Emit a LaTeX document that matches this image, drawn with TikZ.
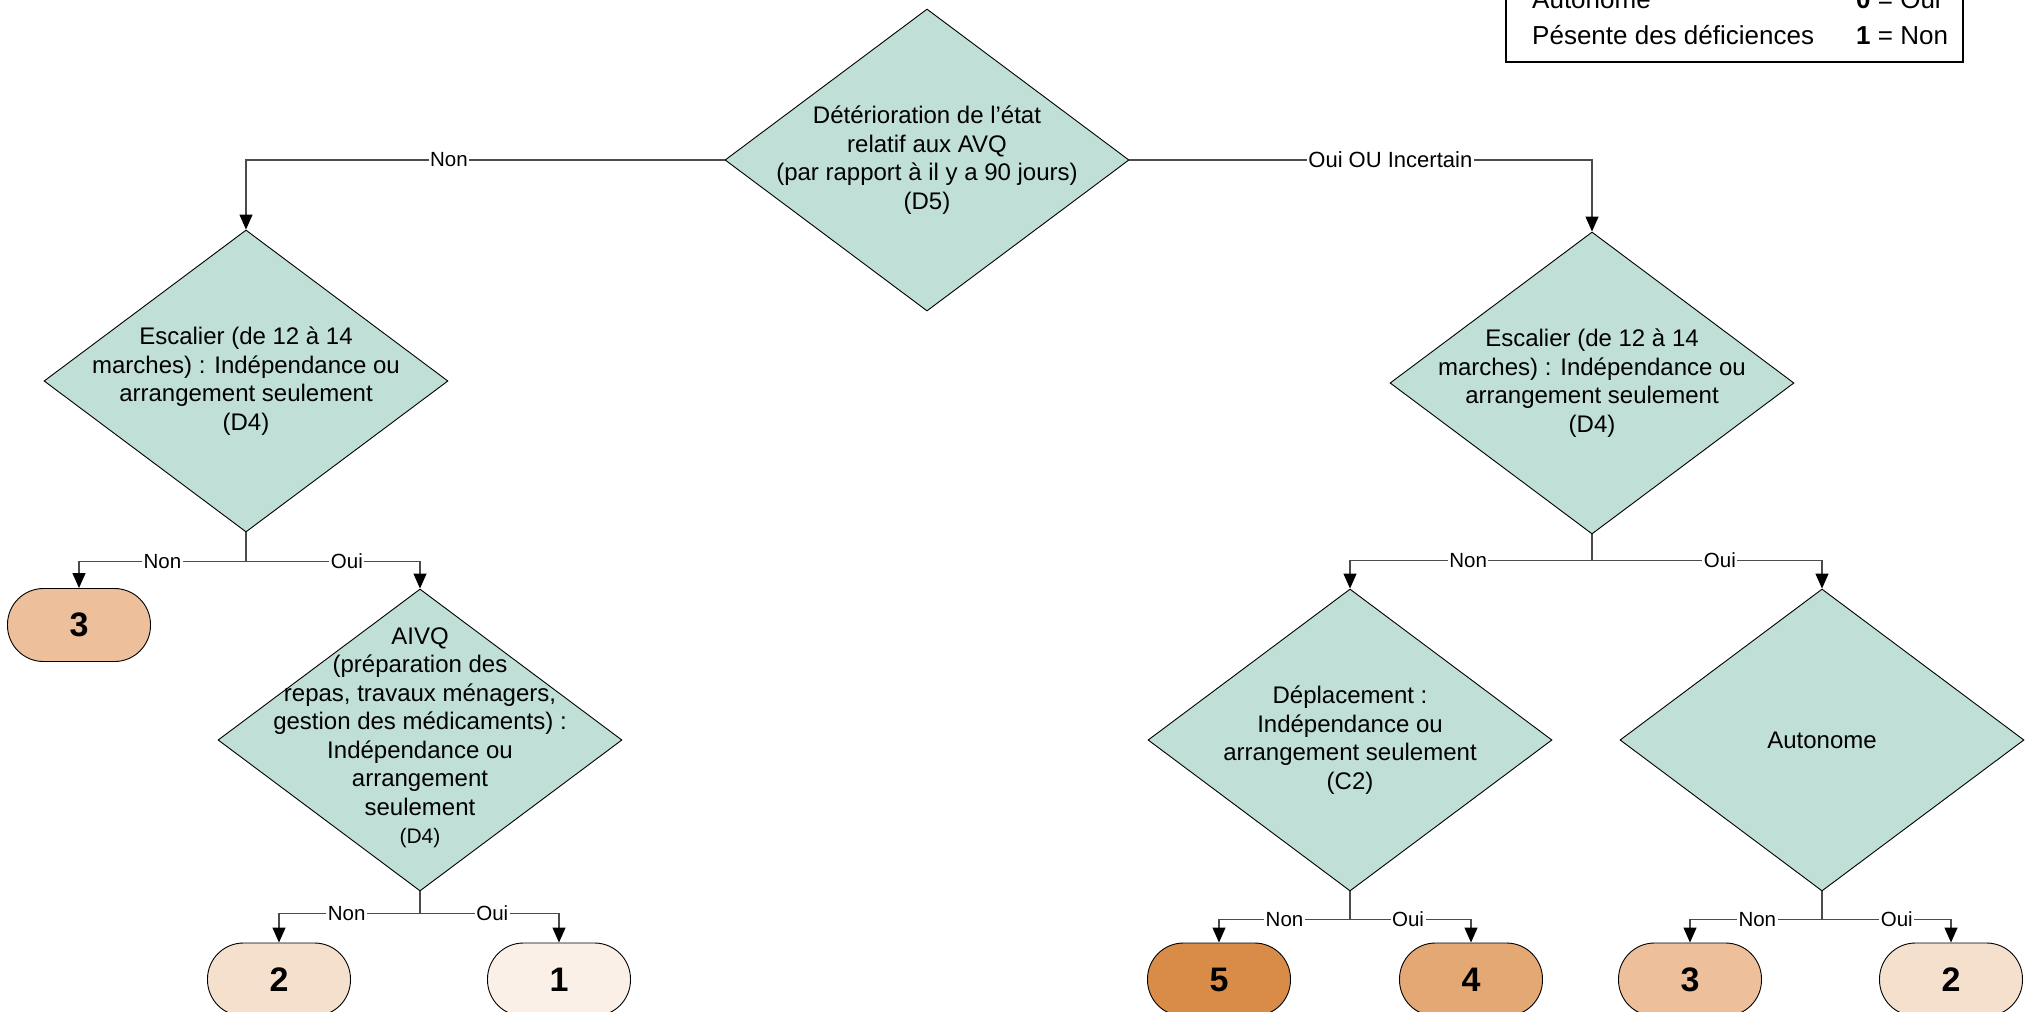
\documentclass[tikz,border=0pt]{standalone}
\usepackage{fontspec}
\setmainfont{Liberation Sans}
\usetikzlibrary{shapes.geometric,arrows.meta}
\definecolor{dfill}{RGB}{191,223,215}
\definecolor{cfive}{RGB}{217,140,72}
\definecolor{cfour}{RGB}{227,168,115}
\definecolor{cthree}{RGB}{237,192,155}
\definecolor{ctwo}{RGB}{245,224,206}
\definecolor{cone}{RGB}{250,240,232}
\definecolor{connc}{RGB}{75,75,75}
\begin{document}
\begin{tikzpicture}[x=1pt,y=-1pt,
  dia/.style={diamond, draw=black, line width=0.9pt, fill=dfill, minimum width=404pt, minimum height=302pt, inner sep=0pt},
  dtxt/.style={align=center, font=\fontsize{24}{28.5}\selectfont, inner sep=0pt},
  term/.style={rectangle, rounded corners=36pt, draw=black, line width=0.9pt, minimum width=143pt, minimum height=73pt, font=\fontsize{34}{40}\selectfont\bfseries},
  lab/.style={fill=white, inner sep=1.5pt, font=\fontsize{20.5}{24}\selectfont},
  conn/.style={draw=connc, line width=1.3pt},
  arr/.style={conn, -{Triangle[length=15pt,width=13pt,color=black,fill=black]}},
  legtxt/.style={anchor=base west, inner sep=0pt, font=\fontsize{26}{30}\selectfont}
]
\useasboundingbox (0,0) rectangle (2027,1012);

% decision diamonds
\node[dia] (d5) at (927,160) {};
\node[dtxt] (d5t) at (d5.center) {Détérioration de l’état\\relatif aux AVQ\\(par rapport à il y a 90 jours)\\(D5)};
\node[dia] (e1) at (246,381) {};
\node[dtxt] (e1t) at (e1.center) {Escalier (de 12 à 14\\marches) : Indépendance ou\\arrangement seulement\\(D4)};
\node[dia] (e2) at (1592,383) {};
\node[dtxt] (e2t) at (e2.center) {Escalier (de 12 à 14\\marches) : Indépendance ou\\arrangement seulement\\(D4)};
\node[dia] (av) at (420,740) {};
\node[dtxt] (avt) at (420,738) {AIVQ\\(préparation des\\repas, travaux ménagers,\\gestion des médicaments) :\\Indépendance ou\\arrangement\\seulement\\{\fontsize{21}{28.5}\selectfont (D4)}};
\node[dia] (dp) at (1350,740) {};
\node[dtxt] (dpt) at (dp.center) {Déplacement :\\Indépendance ou\\arrangement seulement\\(C2)};
\node[dia] (au) at (1822,740) {};
\node[dtxt] (aut) at (au.center) {Autonome};

% terminals
\node[term, fill=cthree] (ta) at (79,625) {3};
\node[term, fill=ctwo] (tb) at (279,979.5) {2};
\node[term, fill=cone] (tc) at (559,979.5) {1};
\node[term, fill=cfive] (td) at (1219,979.5) {5};
\node[term, fill=cfour] (te) at (1471,979.5) {4};
\node[term, fill=cthree] (tf) at (1690,979.5) {3};
\node[term, fill=ctwo] (tg) at (1951,979.5) {2};

% connectors
\draw[arr] (d5.west) -| node[lab,pos=0.288]{Non} (e1.north);
\draw[arr] (d5.east) -| node[lab,pos=0.282,font=\fontsize{22}{26}\selectfont]{Oui OU Incertain} (e2.north);

\draw[conn] (e1.south) -- ++(0,29) coordinate (j1);
\draw[arr] (j1) -| node[lab,pos=0.25]{Non} (ta.north);
\draw[arr] (j1) -| node[lab,pos=0.29]{Oui} (av.north);

\draw[conn] (e2.south) -- ++(0,26) coordinate (j2);
\draw[arr] (j2) -| node[lab,pos=0.256]{Non} (dp.north);
\draw[arr] (j2) -| node[lab,pos=0.278]{Oui} (au.north);

\draw[conn] (av.south) -- ++(0,22) coordinate (j3);
\draw[arr] (j3) -| node[lab,pos=0.26]{Non} (tb.north);
\draw[arr] (j3) -| node[lab,pos=0.26]{Oui} (tc.north);

\draw[conn] (dp.south) -- ++(0,28) coordinate (j4);
\draw[arr] (j4) -| node[lab,pos=0.25]{Non} (td.north);
\draw[arr] (j4) -| node[lab,pos=0.24]{Oui} (te.north);

\draw[conn] (au.south) -- ++(0,28) coordinate (j5);
\draw[arr] (j5) -| node[lab,pos=0.245]{Non} (tf.north);
\draw[arr] (j5) -| node[lab,pos=0.29]{Oui} (tg.north);

% legend
\draw[line width=2pt] (1506,-20) rectangle (1963,62);
\node[legtxt] (lg1) at (1532,8) {Autonome};
\node[legtxt] (lg2) at (1532,44) {Pésente des déficiences};
\node[legtxt] (lg3) at (1856,8) {\textbf{0} = Oui};
\node[legtxt] (lg4) at (1856,44) {\textbf{1} = Non};
\end{tikzpicture}
\end{document}
